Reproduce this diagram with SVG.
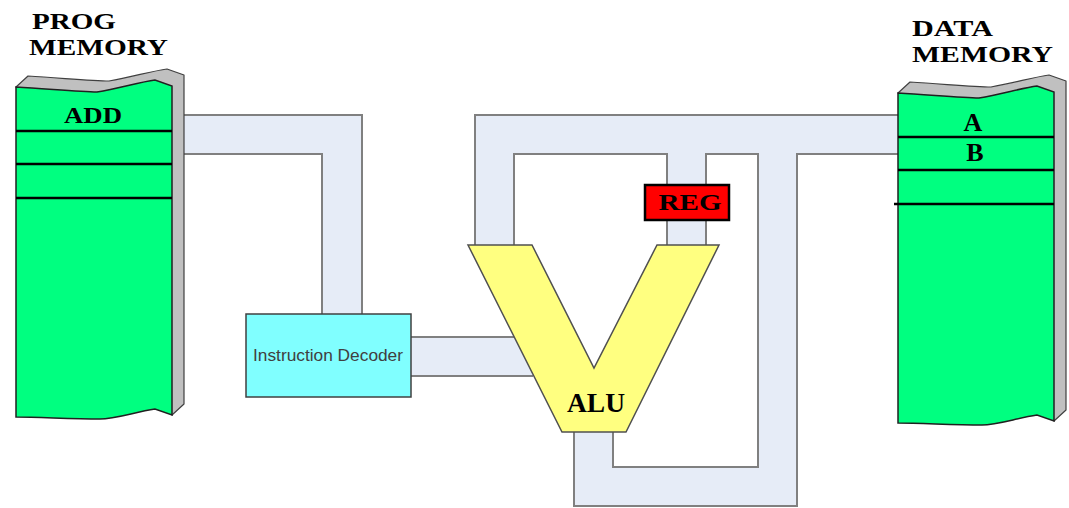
<svg xmlns="http://www.w3.org/2000/svg" xmlns:xlink="http://www.w3.org/1999/xlink" width="1069" height="508" viewBox="0 0 1069 508">
<style>
.lbl{font-family:"Liberation Serif","Times New Roman",serif;font-weight:bold;fill:#000;}
.bus{fill:#e6ecf7;stroke:none;}
.busline{fill:none;stroke:#808080;stroke-width:2;}
.row{stroke:#000;stroke-width:2.5;fill:none;}
.grey{fill:#c0c0c0;stroke:#404040;stroke-width:1.2;stroke-linejoin:round;}
.green{fill:#00ff80;stroke:#202020;stroke-width:1.5;}
</style>
<defs>
<g id="memshape">
<path class="grey" d="M16,87 L28,76 C62,78 92,81 109,81 C132,77 152,71 167,69 L184,75 L184,404 L172,415 Z"/>
<path class="green" d="M16,87 C50,89 80,92 97,92 C120,88 140,82 155,80 L172,86 L172,415 L155,409 C135,412 115,419 100,419 C70,419 40,417 16,417 Z"/>
</g>
</defs>
<rect width="1069" height="508" fill="#fff"/>
<g id="connectors">
<path class="bus" d="M180,115 L362,115 L362,316 L322,316 L322,154 L180,154 Z"/>
<path class="busline" d="M184,115 L362,115 L362,314 M184,154 L322,154 L322,314"/>
<path class="bus" d="M409,337 L520,337 L540,376 L409,376 Z"/>
<path class="busline" d="M411,337 L514,337 M411,376 L533,376"/>
<path class="bus" d="M475,250 L475,115 L900,115 L900,154 L797,154 L797,506 L574,506 L574,428 L613,428 L613,467 L758,467 L758,154 L706,154 L706,250 L667,250 L667,154 L514,154 L514,250 Z"/>
<path class="busline" d="M475,245 L475,115 L898,115 M898,154 L797,154 L797,506 L574,506 L574,432 M613,432 L613,467 L758,467 L758,154 L706,154 L706,245 M667,245 L667,154 L514,154 L514,245"/>
</g>
<g id="prog-memory">
<use xlink:href="#memshape"/>
<path class="row" d="M16,131 H172 M16,164 H172 M16,198 H172"/>
<text class="lbl" x="32" y="29" font-size="23" textLength="84" lengthAdjust="spacingAndGlyphs">PROG</text>
<text class="lbl" x="29" y="55" font-size="23" textLength="139" lengthAdjust="spacingAndGlyphs">MEMORY</text>
<text class="lbl" x="93" y="123" font-size="24" text-anchor="middle" textLength="58" lengthAdjust="spacingAndGlyphs">ADD</text>
</g>
<g id="data-memory">
<use xlink:href="#memshape" transform="translate(882,6)"/>
<path class="row" d="M898,137 H1054 M898,170 H1054 M894,204 H1054"/>
<text class="lbl" x="912" y="36" font-size="23" textLength="81" lengthAdjust="spacingAndGlyphs">DATA</text>
<text class="lbl" x="912" y="62" font-size="23" textLength="141" lengthAdjust="spacingAndGlyphs">MEMORY</text>
<text class="lbl" x="973" y="131" font-size="26" text-anchor="middle">A</text>
<text class="lbl" x="975" y="161" font-size="26" text-anchor="middle">B</text>
</g>
<g id="instruction-decoder">
<rect x="246" y="314" width="165" height="83" fill="#80ffff" stroke="#404040" stroke-width="1.5"/>
<text x="328" y="361" font-family="Liberation Sans, Arial, sans-serif" font-size="17" fill="#404040" text-anchor="middle" textLength="150" lengthAdjust="spacingAndGlyphs">Instruction Decoder</text>
</g>
<g id="alu">
<polygon points="468,245 532,245 594,368 657,245 719,245 626,432 562,432" fill="#ffff80" stroke="#505050" stroke-width="1.5" stroke-linejoin="miter"/>
<text class="lbl" x="596" y="412" font-size="27" text-anchor="middle" textLength="58" lengthAdjust="spacingAndGlyphs">ALU</text>
</g>
<g id="reg">
<rect x="645" y="185" width="84" height="35" fill="#ff0000" stroke="#000" stroke-width="2.5"/>
<text class="lbl" x="690" y="210" font-size="24" text-anchor="middle" textLength="63" lengthAdjust="spacingAndGlyphs">REG</text>
</g>
</svg>
